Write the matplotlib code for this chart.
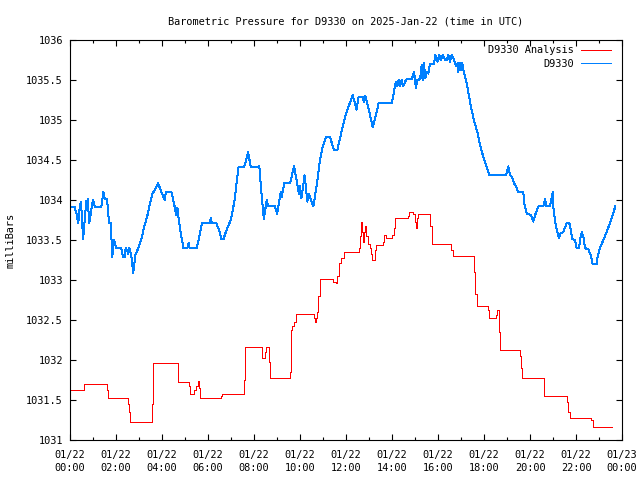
import matplotlib
matplotlib.use("Agg")
import matplotlib.pyplot as plt

plt.rcParams['font.family'] = ['DejaVu Sans Mono', 'DejaVu Sans']

# Hours since 2025-01-22 00:00 UTC
analysis_hours = [0.00, 0.61, 0.63, 1.63, 1.67, 2.54, 2.57, 2.61, 3.57, 3.59, 3.61,
                  4.68, 4.70, 5.19, 5.22, 5.37, 5.48, 5.57, 5.61, 5.65, 6.57, 6.61,
                  7.57, 7.59, 7.63, 8.33, 8.35, 8.48, 8.52, 8.65, 8.70, 9.57, 9.59,
                  9.61, 9.65, 9.74, 9.83, 10.61, 10.65, 10.70, 10.74, 10.78, 10.87,
                  11.43, 11.57, 11.63, 11.70, 11.78, 11.91, 12.57, 12.61, 12.67, 12.70,
                  12.75, 12.78, 12.84, 12.88, 12.94, 13.04, 13.09, 13.13, 13.24, 13.28,
                  13.32, 13.59, 13.67, 13.74, 14.00, 14.09, 14.14, 14.70, 14.75, 14.91,
                  15.00, 15.04, 15.09, 15.14, 15.67, 15.75, 16.57, 16.67, 17.57, 17.61,
                  17.68, 18.17, 18.23, 18.54, 18.58, 18.63, 18.67, 18.71, 19.57, 19.63,
                  19.67, 20.59, 20.61, 21.63, 21.67, 21.73, 22.65, 22.73, 23.55]
analysis_mb = [1031.63, 1031.67, 1031.70, 1031.62, 1031.52, 1031.45, 1031.35, 1031.22,
               1031.45, 1031.85, 1031.96, 1031.85, 1031.73, 1031.67, 1031.58, 1031.62,
               1031.68, 1031.74, 1031.65, 1031.52, 1031.55, 1031.58, 1031.75, 1031.98,
               1032.16, 1032.10, 1032.03, 1032.10, 1032.16, 1031.98, 1031.78, 1031.85,
               1032.15, 1032.38, 1032.42, 1032.48, 1032.58, 1032.52, 1032.48, 1032.52,
               1032.60, 1032.80, 1033.01, 1032.98, 1032.96, 1033.05, 1033.21, 1033.28,
               1033.35, 1033.40, 1033.55, 1033.73, 1033.60, 1033.47, 1033.60, 1033.68,
               1033.55, 1033.45, 1033.40, 1033.33, 1033.25, 1033.30, 1033.37, 1033.44,
               1033.48, 1033.56, 1033.53, 1033.56, 1033.65, 1033.77, 1033.80, 1033.85,
               1033.83, 1033.72, 1033.65, 1033.78, 1033.82, 1033.68, 1033.45, 1033.38,
               1033.30, 1033.10, 1032.82, 1032.67, 1032.62, 1032.52, 1032.56, 1032.62,
               1032.63, 1032.35, 1032.13, 1032.05, 1031.90, 1031.77, 1031.65, 1031.55,
               1031.48, 1031.35, 1031.28, 1031.25, 1031.16, 1031.16]

station_hours = [0.03, 0.20, 0.28, 0.36, 0.43, 0.48, 0.57, 0.71, 0.74, 0.77, 0.84, 0.91,
                 1.00, 1.09, 1.36, 1.45, 1.51, 1.61, 1.70, 1.77, 1.84, 1.91, 2.01, 2.23,
                 2.30, 2.38, 2.42, 2.49, 2.52, 2.58, 2.67, 2.75, 2.84, 2.97, 3.10, 3.23,
                 3.36, 3.45, 3.59, 3.74, 3.83, 3.97, 4.12, 4.17, 4.41, 4.52, 4.62, 4.67,
                 4.70, 4.81, 4.93, 5.10, 5.16, 5.20, 5.51, 5.62, 5.74, 6.07, 6.12, 6.17,
                 6.36, 6.51, 6.58, 6.67, 6.80, 6.99, 7.16, 7.26, 7.33, 7.57, 7.62, 7.74,
                 7.78, 7.86, 8.23, 8.35, 8.43, 8.55, 8.62, 8.91, 9.01, 9.16, 9.20, 9.32,
                 9.57, 9.74, 9.90, 9.95, 9.99, 10.06, 10.20, 10.32, 10.39, 10.52, 10.58,
                 10.72, 10.87, 10.99, 11.13, 11.30, 11.48, 11.62, 11.77, 11.96, 12.14,
                 12.29, 12.35, 12.46, 12.55, 12.72, 12.78, 12.84, 12.99, 13.16, 13.30,
                 13.42, 13.99, 14.17, 14.23, 14.29, 14.35, 14.42, 14.49, 14.57, 14.64,
                 14.86, 14.96, 15.04, 15.10, 15.22, 15.29, 15.33, 15.39, 15.45, 15.51,
                 15.58, 15.65, 15.83, 15.88, 15.97, 16.06, 16.12, 16.20, 16.32, 16.38,
                 16.45, 16.52, 16.59, 16.67, 16.74, 16.81, 16.86, 16.88, 16.96, 17.00,
                 17.06, 17.10, 17.25, 17.39, 17.54, 17.71, 17.86, 17.97, 18.09, 18.23,
                 18.96, 19.06, 19.13, 19.22, 19.30, 19.39, 19.49, 19.71, 19.75, 19.86,
                 20.04, 20.14, 20.22, 20.36, 20.58, 20.65, 20.72, 20.87, 20.99, 21.01,
                 21.09, 21.16, 21.26, 21.33, 21.45, 21.59, 21.71, 21.77, 21.84, 21.96,
                 22.03, 22.14, 22.17, 22.25, 22.32, 22.39, 22.54, 22.64, 22.72, 22.90,
                 22.94, 23.04, 23.19, 23.33, 23.48, 23.59, 23.71]
station_mb = [1033.91, 1033.91, 1033.83, 1033.71, 1033.94, 1033.97, 1033.51, 1033.99,
              1033.94, 1034.01, 1033.71, 1033.85, 1034.00, 1033.91, 1033.91, 1034.10,
              1034.01, 1034.01, 1033.71, 1033.71, 1033.29, 1033.50, 1033.40, 1033.40,
              1033.29, 1033.29, 1033.40, 1033.37, 1033.33, 1033.40, 1033.29, 1033.09,
              1033.31, 1033.40, 1033.51, 1033.67, 1033.80, 1033.92, 1034.08, 1034.15,
              1034.21, 1034.10, 1034.00, 1034.10, 1034.10, 1033.96, 1033.81, 1033.90,
              1033.81, 1033.60, 1033.40, 1033.40, 1033.46, 1033.40, 1033.40, 1033.54,
              1033.71, 1033.71, 1033.77, 1033.71, 1033.71, 1033.60, 1033.51, 1033.51,
              1033.62, 1033.75, 1034.00, 1034.26, 1034.41, 1034.41, 1034.46, 1034.60,
              1034.54, 1034.41, 1034.42, 1034.00, 1033.76, 1034.00, 1033.92, 1033.92,
              1033.83, 1034.10, 1034.04, 1034.21, 1034.21, 1034.42, 1034.17, 1034.08,
              1034.17, 1034.02, 1034.31, 1033.98, 1034.08, 1033.96, 1033.92, 1034.17,
              1034.50, 1034.67, 1034.79, 1034.79, 1034.62, 1034.62, 1034.81, 1035.04,
              1035.19, 1035.31, 1035.25, 1035.13, 1035.29, 1035.29, 1035.23, 1035.30,
              1035.13, 1034.91, 1035.06, 1035.21, 1035.21, 1035.48, 1035.42, 1035.50,
              1035.42, 1035.50, 1035.42, 1035.48, 1035.51, 1035.51, 1035.60, 1035.40,
              1035.50, 1035.51, 1035.69, 1035.50, 1035.71, 1035.52, 1035.60, 1035.58,
              1035.70, 1035.70, 1035.81, 1035.73, 1035.81, 1035.75, 1035.81, 1035.75,
              1035.75, 1035.81, 1035.73, 1035.81, 1035.77, 1035.71, 1035.67, 1035.71,
              1035.60, 1035.71, 1035.63, 1035.71, 1035.63, 1035.46, 1035.23, 1035.02,
              1034.85, 1034.65, 1034.54, 1034.44, 1034.31, 1034.31, 1034.42, 1034.31,
              1034.29, 1034.21, 1034.17, 1034.10, 1034.10, 1033.96, 1033.83, 1033.81,
              1033.73, 1033.81, 1033.92, 1033.92, 1034.01, 1033.92, 1033.92, 1034.10,
              1033.92, 1033.73, 1033.63, 1033.52, 1033.58, 1033.60, 1033.71, 1033.71,
              1033.63, 1033.51, 1033.50, 1033.40, 1033.40, 1033.50, 1033.60, 1033.54,
              1033.40, 1033.38, 1033.31, 1033.20, 1033.20, 1033.29, 1033.40, 1033.50,
              1033.60, 1033.71, 1033.81, 1033.92]

x_ticks = [0, 2, 4, 6, 8, 10, 12, 14, 16, 18, 20, 22, 24]
x_labels = ['01/22\n00:00', '01/22\n02:00', '01/22\n04:00', '01/22\n06:00',
            '01/22\n08:00', '01/22\n10:00', '01/22\n12:00', '01/22\n14:00',
            '01/22\n16:00', '01/22\n18:00', '01/22\n20:00', '01/22\n22:00',
            '01/23\n00:00']
y_ticks = [1031, 1031.5, 1032, 1032.5, 1033, 1033.5, 1034, 1034.5, 1035, 1035.5, 1036]

fs = 7.4

fig = plt.figure(figsize=(6.4, 4.8), dpi=100)
ax = fig.add_axes([70 / 640, 40 / 480, 552 / 640, 400 / 480])

ax.plot(analysis_hours, analysis_mb, color='#ff0000', lw=0.72,
        drawstyle='steps-post', label='D9330 Analysis', antialiased=False)
ax.plot(station_hours, station_mb, color='#0080ff', lw=0.72,
        label='D9330', antialiased=False)

ax.set_xlim(0, 24)
ax.set_ylim(1031, 1036)
ax.set_xticks(x_ticks)
ax.set_xticklabels(x_labels, linespacing=1.45)
ax.set_xticks(range(1, 24, 2), minor=True)
ax.set_yticks(y_ticks)
ax.set_yticklabels(['%g' % v for v in y_ticks])

ax.tick_params(which='major', direction='in', length=4.5, width=0.8,
               top=True, right=True, labelsize=fs, color='black')
ax.tick_params(which='minor', direction='in', length=2.2, width=0.8,
               top=True, right=False)
ax.tick_params(axis='x', pad=7)
ax.tick_params(axis='y', pad=5)
for s in ax.spines.values():
    s.set_linewidth(0.8)

ax.set_title('Barometric Pressure for D9330 on 2025-Jan-22 (time in UTC)',
             fontsize=fs, pad=11)
ax.set_ylabel('milliBars', fontsize=fs)
ax.yaxis.set_label_coords(-0.098, 0.5)

ax.legend(loc='upper right', bbox_to_anchor=(1 - 4 / 552, 1 + 2 / 400),
          frameon=False, markerfirst=False, fontsize=fs, handlelength=2.9,
          handletextpad=0.7, labelspacing=0.35, borderaxespad=0.3)

fig.savefig('out.png', dpi=100)
